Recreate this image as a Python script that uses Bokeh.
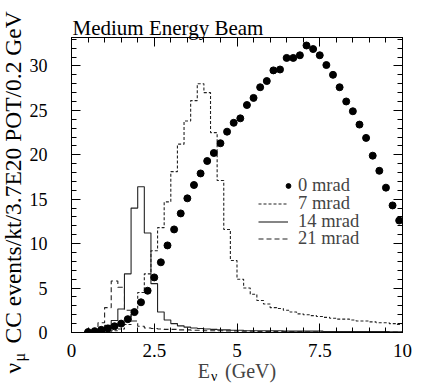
import numpy as np
from bokeh.plotting import figure
from bokeh.models import (Range1d, LinearAxis, SingleIntervalTicker, Label,
                          Legend, LegendItem)
from bokeh.embed import file_html
from bokeh.resources import INLINE

# ---------------- data ----------------
E_edges = [0.0, 0.2, 0.4, 0.6, 0.8, 1.0, 1.2, 1.4, 1.6, 1.8,
           2.0, 2.2, 2.4, 2.6, 2.8, 3.0, 3.2, 3.4, 3.6, 3.8,
           4.0, 4.2, 4.4, 4.6, 4.8, 5.0, 5.2, 5.4, 5.6, 5.8,
           6.0, 6.2, 6.4, 6.6, 6.8, 7.0, 7.2, 7.4, 7.6, 7.8,
           8.0, 8.2, 8.4, 8.6, 8.8, 9.0, 9.2, 9.4, 9.6, 9.8, 10.0]

E_0mrad = [0.5, 0.7, 0.9, 1.1, 1.3, 1.5, 1.7, 1.9,
           2.1, 2.3, 2.5, 2.7, 2.9, 3.1, 3.3, 3.5, 3.7, 3.9,
           4.1, 4.3, 4.5, 4.7, 4.9, 5.1, 5.3, 5.5, 5.7, 5.9,
           6.1, 6.3, 6.5, 6.7, 6.9, 7.1, 7.3, 7.5, 7.7, 7.9,
           8.1, 8.3, 8.5, 8.7, 8.9, 9.1, 9.3, 9.5, 9.7, 9.9]
N_0mrad = [0.05, 0.15, 0.3, 0.45, 0.7, 1.0, 1.5, 2.3,
           3.4, 4.7, 6.2, 7.9, 9.8, 11.6, 13.4, 15.1, 16.6, 17.9,
           19.3, 20.2, 21.3, 22.6, 23.6, 24.1, 25.6, 26.4, 27.6, 28.3,
           29.5, 29.6, 30.9, 30.9, 31.2, 32.3, 31.9, 31.2, 30.1, 29.0,
           27.6, 26.0, 24.9, 23.4, 21.9, 19.9, 18.2, 16.3, 14.3, 12.6]

N_7mrad = [0.0, 0.0, 0.0, 0.0, 0.05, 0.1, 0.2, 0.4, 0.9, 2.0,
           4.5, 6.6, 9.2, 11.8, 14.7, 18.1, 21.2, 23.8, 26.1, 28.0,
           27.0, 22.5, 17.1, 11.6, 8.1, 6.0, 5.0, 4.3, 3.6, 3.2,
           2.8, 2.7, 2.5, 2.3, 2.1, 2.0, 1.9, 1.8, 1.7, 1.6,
           1.5, 1.5, 1.4, 1.3, 1.3, 1.2, 1.1, 1.1, 1.0, 0.9]

N_14mrad = [0.0, 0.0, 0.1, 0.2, 0.4, 0.8, 1.35, 2.65, 6.6, 14.0,
            16.4, 11.2, 5.5, 2.3, 1.4, 1.0, 0.75, 0.6, 0.5, 0.45,
            0.4, 0.35, 0.3, 0.3, 0.25, 0.25, 0.2, 0.2, 0.2, 0.2,
            0.2, 0.2, 0.15, 0.15, 0.15, 0.15, 0.15, 0.15, 0.12, 0.12,
            0.12, 0.12, 0.1, 0.1, 0.1, 0.1, 0.1, 0.1, 0.08, 0.08]

N_21mrad = [0.0, 0.0, 0.05, 0.3, 1.1, 2.8, 5.8, 5.1, 2.5, 1.3,
            0.7, 0.5, 0.45, 0.4, 0.35, 0.35, 0.3, 0.3, 0.25, 0.25,
            0.2, 0.2, 0.2, 0.18, 0.18, 0.15, 0.15, 0.15, 0.12, 0.12,
            0.12, 0.1, 0.1, 0.1, 0.1, 0.08, 0.08, 0.08, 0.08, 0.06,
            0.06, 0.06, 0.06, 0.05, 0.05, 0.05, 0.05, 0.05, 0.04, 0.04]

series_labels = ["0 mrad", "7 mrad", "14 mrad", "21 mrad"]
x_ticks = [0, 2.5, 5, 7.5, 10]
y_ticks = [0, 5, 10, 15, 20, 25, 30]

FONT = "Liberation Serif"
XMIN, XMAX, YMIN, YMAX = 0.0, 10.0, 0.0, 33.2

# frame placement on the canvas (pixels)
FX0, FX1, FY1, FY0 = 70, 402, 37, 332
W, H = 436, 384


def xd(px):
    return XMIN + (px - FX0) * (XMAX - XMIN) / (FX1 - FX0)


def yd(py):
    return YMIN + (FY0 - py) * (YMAX - YMIN) / (FY0 - FY1)


p = figure(width=W, height=H, output_backend="svg", toolbar_location=None,
           x_range=Range1d(XMIN, XMAX), y_range=Range1d(YMIN, YMAX),
           min_border_left=FX0, min_border_right=W - FX1,
           min_border_top=FY1, min_border_bottom=H - FY0,
           x_axis_type=None, y_axis_type=None)
p.xgrid.visible = False
p.ygrid.visible = False
p.outline_line_color = "black"
p.outline_line_width = 1
p.background_fill_color = "white"
p.border_fill_color = "white"


def style_axis(ax, ticks, show_labels, font_size, standoff):
    ax.axis_line_color = "black"
    ax.major_tick_line_color = "black"
    ax.minor_tick_line_color = "black"
    ax.major_tick_in = 9
    ax.major_tick_out = 0
    ax.minor_tick_in = 5
    ax.minor_tick_out = 0
    ax.major_label_text_font = FONT
    ax.major_label_text_color = "black"
    if show_labels:
        ax.major_label_text_font_size = font_size
        ax.major_label_standoff = standoff
    else:
        ax.major_label_overrides = {t: "" for t in ticks}
        ax.major_label_text_font_size = "0px"
        ax.major_label_standoff = 0


x_ticker = SingleIntervalTicker(interval=2.5, num_minor_ticks=5)
y_ticker = SingleIntervalTicker(interval=5, num_minor_ticks=5)

xb = LinearAxis(ticker=x_ticker)
style_axis(xb, x_ticks, True, "19px", 11)
xb.axis_label = "E\u00a0\u00a0\u00a0(GeV)"
xb.axis_label_text_font = FONT
xb.axis_label_text_font_size = "20px"
xb.axis_label_text_font_style = "normal"
xb.axis_label_standoff = 0
p.add_layout(xb, "below")

xt = LinearAxis(ticker=x_ticker)
style_axis(xt, x_ticks, False, "0px", 0)
p.add_layout(xt, "above")

yl = LinearAxis(ticker=y_ticker)
style_axis(yl, y_ticks, True, "18px", 24)
p.add_layout(yl, "left")

yr = LinearAxis(ticker=y_ticker)
style_axis(yr, y_ticks, False, "0px", 0)
p.add_layout(yr, "right")

# ---------------- data renderers ----------------
def step_y(vals):
    return list(vals) + [vals[-1]]


LC = "#222222"
r7 = p.step(E_edges, step_y(N_7mrad), mode="after", line_color=LC,
            line_width=1.1, line_dash="3 2")
r14 = p.step(E_edges, step_y(N_14mrad), mode="after", line_color=LC,
             line_width=1.1)
r21 = p.step(E_edges, step_y(N_21mrad), mode="after", line_color=LC,
             line_width=1.1, line_dash="5 3")
r0 = p.scatter(E_0mrad, N_0mrad, size=7, marker="circle",
               fill_color="black", line_color="black")

# one single-entry legend per row, so the row pitch is exact
# (label, renderer, x-location, y-location, glyph width, standoff)
legend_rows = [(series_labels[0], r0, 211, 136, 12, 4),
               (series_labels[1], r7, 187, 118, 30, 10),
               (series_labels[2], r14, 187, 100, 30, 10),
               (series_labels[3], r21, 187, 83, 30, 10)]
for lab, rend, lx, ly, gw, so in legend_rows:
    lg = Legend(items=[LegendItem(label=lab, renderers=[rend])],
                location=(lx, ly), orientation="vertical",
                glyph_width=gw, glyph_height=13, label_height=18,
                label_standoff=so, spacing=0, padding=0, margin=0,
                label_text_font=FONT, label_text_font_size="18.5px",
                label_text_line_height=1.0,
                border_line_color=None, background_fill_alpha=0)
    p.add_layout(lg, "center")

# ---------------- texts outside the frame ----------------
# Bokeh draws an "alphabetic" Label a little below the anchor; compensate
def text_label(txt, px, py, size_px, rotated=False):
    shift = 0.3 * size_px
    if rotated:
        px, angle = px - shift, np.pi / 2
    else:
        py, angle = py - shift, 0.0
    return Label(x=xd(px), y=yd(py), text=txt, angle=angle,
                 text_font=FONT, text_font_size=f"{size_px}px",
                 text_color="black", text_align="left",
                 text_baseline="alphabetic", text_line_height=1.0)


p.add_layout(text_label("Medium Energy Beam", 71, 34, 21), "above")
p.add_layout(text_label("CC events/kt/3.7E20 POT/0.2 GeV", 18, 343, 23.5,
                        rotated=True), "left")
p.add_layout(text_label("ν", 18, 373, 23.5, rotated=True), "above")
p.add_layout(text_label("μ", 23, 361, 16, rotated=True), "right")
p.add_layout(text_label("ν", 210, 380, 14), "right")

open("out.html", "w").write(file_html(p, INLINE))
